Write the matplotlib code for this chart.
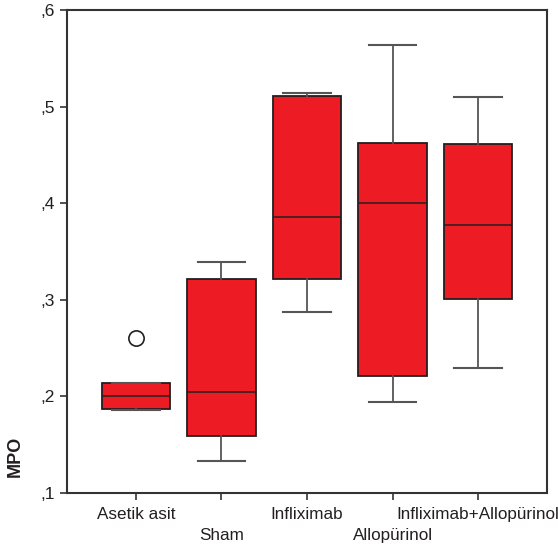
import matplotlib
matplotlib.use("Agg")
import matplotlib.pyplot as plt

plt.rcParams['font.family'] = ['Liberation Sans', 'DejaVu Sans']

# groups and box statistics
groups = ["Asetik asit", "Sham", "Infliximab", "Allopürinol", "Infliximab+Allopürinol"]
whis_lo = [0.1856, 0.1335, 0.287, 0.1945, 0.229]
q1 = [0.187, 0.159, 0.3215, 0.221, 0.301]
med = [0.200, 0.205, 0.386, 0.400, 0.3774]
q3 = [0.214, 0.3215, 0.511, 0.4626, 0.4613]
whis_hi = [0.214, 0.339, 0.514, 0.5638, 0.510]
outliers = [[0.260], [], [], [], []]

yticks = [0.1, 0.2, 0.3, 0.4, 0.5, 0.6]
ytick_labels = [",1", ",2", ",3", ",4", ",5", ",6"]

stats = []
for i in range(len(groups)):
    stats.append(dict(label=groups[i], whislo=whis_lo[i], q1=q1[i], med=med[i],
                      q3=q3[i], whishi=whis_hi[i], fliers=outliers[i]))

fig = plt.figure(figsize=(5.58, 5.47), dpi=100)
ax = fig.add_axes([0.1201, 0.0987, 0.8602, 0.883])

ax.bxp(stats, positions=range(len(groups)), widths=0.8, capwidths=0.56,
       patch_artist=True,
       boxprops=dict(facecolor='#ED1C24', edgecolor='#231F20', linewidth=1.3),
       medianprops=dict(color='#231F20', linewidth=1.1),
       whiskerprops=dict(color='#555555', linewidth=1.3),
       capprops=dict(color='#555555', linewidth=1.5),
       flierprops=dict(marker='o', markerfacecolor='none', markeredgecolor='#231F20',
                       markersize=11, markeredgewidth=1.2))

ax.set_xlim(-0.806, 4.806)
ax.set_ylim(0.1, 0.6)
ax.set_yticks(yticks)
ax.set_yticklabels(ytick_labels, fontsize=12.5, color='#231F20')

# staggered category labels
fs = 12.3
ax.set_xticks([0, 2, 4])
ax.set_xticklabels([groups[0], groups[2], groups[4]], fontsize=fs, color='#231F20')
ax.set_xticks([1, 3], minor=True)
ax.set_xticklabels([groups[1], groups[3]], minor=True, fontsize=fs, color='#231F20')
ax.tick_params(axis='x', which='major', length=5, width=1.2, color='#333333', pad=5)
ax.tick_params(axis='x', which='minor', length=5, width=1.2, color='#333333', pad=20)
ax.tick_params(axis='y', length=5, width=1.2, color='#333333', pad=4)

for s in ax.spines.values():
    s.set_linewidth(1.5)
    s.set_color('#333333')

ax.set_ylabel("MPO", fontsize=13, fontweight='bold', color='#231F20')
ax.yaxis.set_label_coords(-0.09, 0.075)

fig.savefig("out.png", dpi=100)
